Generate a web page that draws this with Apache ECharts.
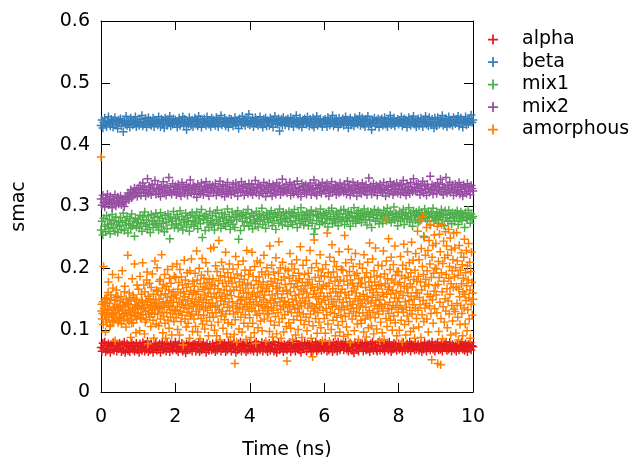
<!DOCTYPE html>
<html>
<head>
<meta charset="utf-8">
<script src="https://cdn.jsdelivr.net/npm/echarts@6/dist/echarts.min.js"></script>
<style>html,body{margin:0;padding:0;background:#fff}#c{width:634px;height:457px}</style>
</head>
<body>
<div id="c"></div>
<script>
const seriesNames = ['alpha', 'beta', 'mix1', 'mix2', 'amorphous'];
const timeRange = [0, 10];   // ns, every trajectory is sampled evenly over this span
const xTicks = [0, 2, 4, 6, 8, 10];
const yTicks = [0, 0.1, 0.2, 0.3, 0.4, 0.5, 0.6];

const alpha = [
.072,.066,.079,.070,.081,.065,.075,.068,.078,.073,.064,.077,.069,.080,.067,.074,.078,.066,.076,.070,
.079,.071,.065,.077,.068,.081,.064,.073,.078,.067,.075,.065,.071,.080,.069,.076,.066,.074,.079,.068,
.075,.064,.078,.071,.067,.080,.073,.066,.077,.069,.082,.065,.074,.068,.078,.071,.064,.076,.070,.079,
.067,.075,.069,.078,.064,.073,.081,.068,.071,.077,.066,.079,.070,.075,.065,.078,.072,.068,.076,.073,
.081,.068,.075,.065,.078,.070,.073,.079,.066,.076,.071,.063,.078,.068,.075,.080,.069,.073,.066,.077,
.071,.078,.066,.075,.069,.081,.065,.077,.068,.073,.079,.070,.075,.064,.078,.071,.067,.076,.073,.068,
.078,.069,.073,.065,.080,.068,.075,.071,.081,.066,.077,.070,.073,.079,.065,.075,.068,.080,.071,.076,
.066,.077,.070,.080,.073,.064,.075,.068,.078,.071,.081,.066,.073,.077,.069,.075,.065,.079,.068,.073,
.080,.068,.075,.070,.066,.078,.073,.081,.065,.077,.071,.068,.075,.080,.066,.073,.078,.069,.076,.065,
.073,.079,.067,.075,.071,.081,.066,.077,.069,.064,.075,.080,.068,.073,.078,.071,.065,.077,.070,.075,
.068,.077,.071,.080,.065,.075,.069,.078,.073,.066,.082,.071,.077,.068,.075,.064,.079,.070,.073,.080,
.075,.066,.078,.070,.077,.073,.065,.080,.068,.075,.071,.081,.066,.077,.069,.073,.079,.067,.075,.071,
.069,.080,.073,.066,.077,.068,.078,.071,.075,.065,.080,.069,.073,.077,.066,.081,.071,.068,.078,.073,
.077,.068,.075,.081,.069,.073,.066,.078,.071,.077,.067,.075,.063,.080,.073,.069,.077,.066,.075,.079,
.071,.078,.066,.073,.080,.068,.077,.069,.075,.065,.078,.071,.081,.067,.073,.077,.069,.066,.080,.075,
.067,.075,.080,.069,.073,.066,.078,.071,.077,.068,.081,.073,.065,.075,.069,.079,.071,.077,.067,.073,
.078,.069,.073,.077,.066,.080,.071,.068,.075,.078,.069,.073,.081,.066,.077,.071,.075,.068,.079,.069,
.073,.077,.067,.071,.078,.065,.075,.069,.080,.073,.066,.077,.071,.078,.068,.075,.081,.069,.073,.066,
.077,.071,.080,.068,.075,.069,.078,.066,.073,.077,.071,.081,.067,.075,.069,.080,.073,.066,.077,.071,
.069,.075,.066,.078,.073,.068,.077,.071,.081,.069,.075,.067,.078,.073,.065,.077,.071,.080,.068,.075,
.073];

const beta = [
.431,.440,.427,.436,.443,.433,.429,.438,.445,.434,.430,.441,.436,.428,.439,.444,.432,.437,.426,.440,
.435,.442,.430,.437,.421,.439,.433,.446,.431,.438,.435,.428,.443,.437,.432,.440,.434,.445,.429,.438,
.436,.431,.441,.434,.447,.430,.438,.435,.442,.428,.437,.444,.433,.439,.431,.436,.443,.429,.440,.435,
.438,.432,.445,.436,.429,.441,.434,.439,.427,.443,.437,.431,.440,.435,.446,.430,.438,.433,.442,.436,
.440,.434,.428,.437,.443,.431,.439,.436,.445,.430,.441,.435,.424,.438,.433,.444,.437,.432,.440,.429,
.437,.443,.433,.439,.430,.446,.435,.441,.428,.438,.434,.442,.436,.431,.445,.439,.433,.437,.429,.443,
.434,.440,.436,.431,.444,.438,.429,.441,.435,.447,.432,.438,.436,.443,.430,.439,.434,.428,.442,.437,
.441,.435,.430,.438,.444,.433,.439,.436,.426,.442,.437,.432,.446,.435,.440,.431,.438,.443,.434,.449,
.432,.439,.436,.442,.429,.437,.444,.434,.440,.431,.438,.445,.433,.437,.428,.441,.436,.443,.430,.439,
.437,.431,.443,.435,.440,.428,.438,.446,.434,.439,.433,.442,.422,.436,.441,.431,.444,.437,.432,.440,
.435,.442,.430,.438,.444,.434,.439,.429,.441,.436,.447,.433,.438,.431,.443,.437,.428,.440,.435,.442,
.439,.433,.445,.436,.430,.441,.437,.432,.443,.428,.438,.435,.446,.431,.440,.436,.442,.434,.429,.439,
.434,.441,.436,.429,.444,.438,.432,.440,.435,.447,.430,.439,.434,.442,.437,.428,.443,.433,.438,.436,
.442,.431,.438,.445,.434,.440,.427,.437,.443,.432,.439,.436,.430,.444,.435,.441,.433,.438,.446,.431,
.436,.443,.433,.439,.429,.441,.437,.446,.432,.438,.434,.424,.440,.436,.443,.430,.439,.435,.442,.428,
.440,.435,.442,.431,.438,.444,.433,.437,.429,.441,.436,.447,.432,.439,.434,.443,.430,.438,.436,.441,
.433,.439,.436,.445,.430,.437,.442,.434,.440,.428,.438,.444,.435,.431,.441,.437,.446,.433,.439,.429,
.438,.442,.431,.437,.443,.435,.429,.440,.436,.446,.433,.438,.430,.444,.437,.432,.441,.435,.427,.443,
.436,.430,.444,.438,.433,.441,.435,.447,.431,.439,.434,.442,.429,.437,.445,.433,.440,.436,.431,.444,
.439,.434,.441,.436,.446,.430,.438,.443,.435,.428,.440,.437,.445,.432,.439,.434,.442,.437,.448,.436,
.440];

const mix1 = [
.262,.276,.254,.281,.268,.259,.285,.271,.264,.279,.256,.273,.287,.266,.277,.260,.283,.270,.258,.275,
.268,.282,.263,.274,.289,.261,.277,.270,.284,.257,.272,.280,.265,.288,.269,.276,.252,.281,.267,.274,
.279,.265,.286,.272,.260,.283,.274,.291,.268,.278,.263,.285,.271,.258,.287,.276,.266,.282,.273,.289,
.270,.284,.262,.277,.290,.267,.281,.273,.259,.286,.275,.264,.288,.279,.248,.283,.270,.276,.292,.266,
.281,.272,.287,.265,.278,.293,.270,.284,.262,.279,.274,.289,.267,.282,.276,.260,.286,.271,.290,.277,
.268,.283,.275,.291,.264,.280,.286,.272,.295,.250,.278,.284,.261,.288,.274,.281,.266,.292,.277,.270,
.285,.273,.262,.289,.279,.294,.270,.283,.276,.265,.290,.281,.272,.287,.268,.278,.296,.274,.284,.263,
.277,.291,.271,.282,.266,.288,.279,.293,.247,.284,.261,.286,.276,.290,.269,.281,.287,.274,.295,.268,
.283,.275,.289,.264,.285,.278,.272,.292,.280,.267,.288,.276,.283,.297,.271,.286,.279,.265,.290,.282,
.274,.287,.280,.293,.269,.284,.277,.290,.263,.282,.288,.273,.296,.279,.285,.270,.291,.281,.276,.289,
.280,.268,.292,.283,.275,.289,.271,.286,.295,.277,.284,.266,.290,.281,.273,.298,.279,.287,.270,.285,
.276,.291,.282,.269,.288,.279,.294,.273,.285,.255,.264,.292,.277,.287,.283,.271,.296,.281,.275,.289,
.286,.273,.290,.281,.267,.293,.278,.284,.297,.272,.288,.280,.275,.291,.283,.269,.287,.279,.294,.276,
.283,.295,.271,.288,.280,.277,.292,.285,.268,.290,.282,.276,.298,.284,.273,.289,.281,.293,.278,.286,
.274,.289,.283,.296,.279,.287,.270,.292,.284,.278,.291,.266,.288,.282,.295,.276,.286,.281,.293,.272,
.290,.280,.285,.273,.294,.283,.288,.277,.297,.286,.279,.291,.274,.287,.282,.299,.278,.289,.284,.269,
.283,.292,.276,.288,.281,.295,.271,.286,.290,.279,.284,.298,.275,.289,.282,.268,.293,.285,.278,.291,
.287,.274,.294,.283,.279,.290,.285,.252,.296,.281,.288,.276,.292,.284,.270,.289,.282,.297,.277,.286,
.280,.291,.285,.273,.289,.283,.295,.278,.287,.269,.293,.282,.286,.276,.294,.281,.288,.272,.290,.284,
.276,.289,.283,.293,.271,.286,.280,.291,.277,.288,.284,.266,.290,.282,.279,.294,.285,.273,.288,.281,
.284];

const mix2 = [
.312,.302,.318,.306,.299,.314,.309,.320,.303,.311,.316,.305,.298,.313,.307,.319,.301,.310,.315,.304,
.309,.317,.303,.312,.306,.300,.314,.308,.316,.322,.311,.319,.327,.314,.323,.318,.330,.321,.326,.316,
.329,.322,.334,.318,.327,.338,.323,.331,.317,.326,.345,.321,.333,.328,.319,.336,.324,.330,.342,.320,
.327,.335,.321,.329,.316,.332,.325,.340,.322,.330,.318,.334,.326,.347,.323,.331,.320,.337,.327,.324,
.333,.319,.328,.336,.322,.330,.317,.339,.325,.332,.321,.328,.335,.318,.331,.326,.343,.322,.329,.334,
.320,.332,.327,.315,.336,.324,.330,.321,.338,.326,.319,.333,.328,.340,.323,.331,.317,.335,.325,.329,
.334,.322,.329,.337,.318,.326,.332,.323,.341,.328,.320,.335,.327,.316,.333,.324,.339,.321,.330,.326,
.319,.331,.336,.325,.322,.338,.327,.317,.334,.329,.323,.340,.326,.332,.318,.335,.324,.330,.321,.337,
.328,.323,.335,.319,.331,.326,.342,.322,.329,.336,.318,.333,.325,.330,.321,.339,.327,.316,.334,.324,
.331,.337,.322,.328,.317,.335,.326,.332,.320,.338,.324,.329,.334,.319,.327,.344,.323,.331,.325,.336,
.322,.330,.327,.339,.318,.333,.325,.321,.336,.329,.324,.341,.320,.331,.328,.316,.337,.326,.333,.323,
.335,.320,.328,.332,.325,.338,.319,.330,.327,.343,.322,.334,.318,.329,.336,.324,.331,.321,.339,.326,
.327,.334,.321,.337,.329,.317,.332,.325,.340,.323,.330,.326,.335,.319,.333,.328,.322,.338,.324,.331,
.329,.323,.336,.326,.320,.341,.328,.333,.318,.330,.325,.339,.322,.334,.327,.317,.336,.329,.324,.332,
.321,.338,.327,.331,.324,.335,.319,.329,.346,.326,.333,.320,.330,.337,.323,.328,.334,.318,.332,.327,
.336,.325,.330,.322,.339,.328,.317,.334,.326,.331,.321,.340,.327,.333,.319,.336,.324,.329,.338,.322,
.328,.333,.320,.335,.327,.342,.323,.330,.318,.337,.326,.332,.321,.339,.328,.324,.345,.331,.325,.336,
.324,.337,.329,.319,.334,.326,.341,.322,.333,.328,.318,.336,.330,.323,.349,.327,.335,.320,.332,.326,
.333,.321,.338,.327,.330,.344,.324,.336,.319,.331,.328,.347,.322,.334,.326,.339,.323,.330,.335,.318,
.327,.336,.322,.331,.325,.339,.320,.333,.328,.317,.335,.324,.330,.321,.337,.326,.332,.319,.334,.329,
.325];

const amorphous = [
.380,.131,.142,.118,.127,.146,.109,.203,.135,.124,.151,.139,.097,.117,.152,.128,.113,.144,.134,.161,.178,.121,.132,.143,.106,.108,.149,.157,.125,.127,.114,.190,.168,.136,.122,.116,.138,.148,.083,.129,.153,.165,.119,.141,.134,.155,.112,.185,.137,.126,
.119,.147,.137,.121,.154,.110,.131,.196,.132,.140,.145,.116,.123,.162,.171,.139,.128,.105,.150,.143,.126,.118,.221,.142,.133,.115,.160,.152,.133,.124,.088,.147,.111,.124,.183,.136,.157,.112,.153,.129,.207,.141,.122,.135,.096,.150,.118,.173,.138,.127,
.128,.166,.144,.140,.099,.187,.120,.134,.119,.158,.148,.145,.209,.125,.136,.173,.137,.094,.162,.113,.130,.148,.117,.181,.194,.141,.078,.155,.126,.132,.176,.121,.151,.139,.106,.169,.128,.145,.191,.134,.116,.158,.087,.143,.126,.212,.137,.149,.110,.165,
.143,.201,.126,.163,.135,.107,.150,.179,.135,.182,.118,.157,.139,.222,.129,.168,.096,.146,.174,.122,.137,.190,.111,.159,.087,.144,.171,.128,.153,.198,.116,.140,.165,.103,.184,.133,.148,.121,.176,.155,.092,.138,.203,.127,.162,.145,.114,.187,.131,.157,
.133,.185,.120,.152,.207,.138,.101,.166,.127,.177,.145,.092,.198,.131,.160,.114,.186,.142,.124,.173,.149,.076,.162,.136,.213,.154,.118,.181,.140,.105,.169,.129,.193,.147,.111,.175,.135,.158,.087,.196,.123,.164,.143,.215,.126,.151,.098,.179,.138,.161,
.118,.171,.146,.192,.106,.158,.130,.228,.141,.181,.097,.163,.125,.149,.200,.134,.086,.175,.153,.119,.189,.138,.216,.110,.166,.145,.124,.184,.157,.102,.170,.136,.209,.149,.115,.177,.132,.195,.160,.091,.143,.182,.121,.167,.139,.232,.154,.108,.174,.128,
.144,.183,.121,.234,.159,.100,.172,.137,.204,.128,.152,.091,.195,.140,.167,.113,.180,.245,.133,.161,.084,.188,.147,.123,.210,.155,.130,.176,.103,.199,.142,.165,.117,.186,.151,.226,.126,.171,.094,.158,.137,.193,.112,.179,.146,.207,.131,.163,.089,.185,
.156,.109,.176,.146,.139,.199,.126,.165,.093,.184,.046,.117,.219,.135,.170,.081,.191,.143,.129,.206,.154,.102,.178,.137,.164,.148,.121,.188,.150,.097,.173,.134,.212,.160,.111,.182,.142,.197,.125,.168,.085,.153,.229,.138,.176,.106,.161,.190,.131,.145,
.120,.197,.150,.088,.173,.135,.226,.158,.111,.187,.142,.168,.096,.203,.131,.155,.079,.180,.146,.124,.212,.161,.104,.174,.139,.186,.127,.153,.209,.115,.170,.141,.194,.099,.163,.132,.178,.149,.221,.118,.157,.136,.190,.082,.167,.145,.201,.126,.174,.138,
.190,.127,.163,.098,.236,.148,.115,.179,.136,.205,.157,.089,.171,.132,.194,.144,.108,.183,.151,.122,.217,.167,.094,.140,.176,.159,.128,.192,.243,.113,.169,.146,.201,.134,.087,.181,.152,.119,.210,.163,.138,.097,.186,.147,.125,.174,.199,.141,.106,.165,
.050,.159,.130,.196,.145,.112,.184,.138,.224,.162,.103,.175,.128,.207,.150,.085,.188,.141,.117,.169,.199,.134,.156,.092,.180,.147,.214,.123,.171,.136,.101,.192,.158,.129,.183,.144,.235,.116,.166,.139,.088,.177,.152,.205,.126,.163,.109,.190,.143,.172,
.147,.121,.213,.160,.099,.177,.136,.192,.153,.114,.182,.143,.229,.126,.168,.087,.201,.139,.174,.057,.107,.158,.131,.246,.164,.135,.185,.119,.154,.208,.142,.095,.170,.128,.196,.151,.113,.179,.137,.222,.160,.104,.188,.145,.167,.083,.199,.132,.173,.155,
.119,.187,.148,.095,.206,.135,.171,.125,.257,.154,.110,.193,.142,.176,.082,.218,.160,.129,.185,.101,.150,.238,.138,.167,.116,.194,.146,.211,.127,.179,.091,.162,.140,.203,.121,.186,.155,.108,.172,.134,.227,.149,.097,.181,.160,.124,.198,.137,.166,.114,
.197,.145,.090,.179,.133,.253,.161,.122,.209,.152,.105,.188,.139,.173,.093,.231,.157,.127,.195,.146,.080,.181,.135,.214,.163,.118,.176,.142,.203,.130,.168,.099,.189,.151,.224,.123,.160,.136,.192,.110,.171,.147,.085,.183,.128,.207,.155,.139,.175,.116,
.111,.176,.143,.200,.128,.158,.097,.222,.150,.185,.118,.169,.137,.089,.193,.155,.124,.210,.147,.104,.178,.132,.241,.165,.121,.186,.144,.107,.172,.153,.215,.129,.161,.094,.196,.139,.178,.120,.233,.148,.167,.102,.188,.135,.157,.205,.126,.174,.141,.083,
.149,.186,.113,.172,.139,.204,.096,.161,.131,.228,.154,.085,.191,.142,.175,.279,.119,.212,.158,.106,.183,.135,.166,.248,.127,.170,.145,.198,.116,.159,.218,.134,.181,.100,.164,.140,.206,.123,.177,.152,.236,.112,.189,.137,.160,.091,.195,.146,.174,.129,
.195,.152,.100,.177,.140,.219,.163,.116,.188,.134,.081,.205,.156,.129,.239,.171,.109,.184,.146,.092,.199,.137,.168,.123,.227,.160,.186,.114,.148,.209,.132,.175,.098,.193,.155,.242,.126,.170,.141,.213,.103,.182,.150,.087,.197,.136,.224,.161,.119,.179,
.160,.260,.132,.187,.105,.214,.153,.276,.141,.178,.088,.232,.165,.125,.203,.284,.148,.190,.114,.250,.171,.136,.221,.182,.143,.266,.118,.196,.158,.229,.097,.174,.245,.139,.207,.154,.271,.127,.185,.052,.218,.149,.237,.111,.192,.163,.254,.135,.200,.172,
.240,.157,.199,.128,.268,.046,.174,.211,.098,.185,.255,.145,.227,.044,.119,.193,.271,.162,.086,.208,.138,.244,.179,.113,.217,.151,.259,.131,.190,.236,.167,.104,.221,.147,.263,.184,.126,.203,.158,.249,.092,.175,.230,.140,.196,.115,.214,.169,.257,.134,
.186,.233,.130,.201,.095,.170,.258,.143,.212,.121,.189,.084,.166,.237,.154,.109,.197,.140,.225,.175,.127,.206,.091,.162,.184,.218,.136,.247,.158,.110,.193,.148,.229,.172,.099,.204,.133,.181,.240,.152,.118,.210,.165,.087,.195,.142,.226,.177,.124,.160,
.150];

const colors = ['#e41a1c', '#377eb8', '#4daf4a', '#984ea3', '#ff7f00'];
const plusPath = 'path://M3.3,0H4.7V3.3H8V4.7H4.7V8H3.3V4.7H0V3.3H3.3Z';
const FONT = 'DejaVu Sans';

// pair each sample with its time: samples are evenly spaced over timeRange
function pairs(vals) {
  const step = (timeRange[1] - timeRange[0]) / (vals.length - 1);
  return vals.map((v, i) => [+(timeRange[0] + i * step).toFixed(4), v]);
}
const allValues = [alpha, beta, mix1, mix2, amorphous].map(pairs);

const axisLine = { show: true, onZero: false, lineStyle: { color: '#000', width: 1 } };
const tick = { show: true, inside: true, length: 9, lineStyle: { color: '#000', width: 1 } };
const labelStyle = { color: '#000', fontFamily: FONT, fontSize: 19 };

const chart = echarts.init(document.getElementById('c'), null, { renderer: 'canvas' });
chart.setOption({
  animation: false,
  backgroundColor: '#fff',
  grid: { left: 101, top: 21, width: 372, height: 371, containLabel: false, outerBoundsMode: 'none' },
  legend: {
    orient: 'vertical', left: 483, top: 25, itemWidth: 10, itemHeight: 10, itemGap: 3.5,
    textStyle: { color: '#000', fontFamily: FONT, fontSize: 19, padding: [0, 0, 0, 19] },
    data: seriesNames.map(n => ({ name: n, icon: plusPath })),
    selectedMode: false
  },
  xAxis: [{
    type: 'value', min: timeRange[0], max: timeRange[1], interval: 2, position: 'bottom',
    axisLine, axisTick: tick, splitLine: { show: false },
    axisLabel: Object.assign({ margin: 16, formatter: v => xTicks.includes(v) ? String(v) : '' }, labelStyle),
    name: 'Time (ns)', nameLocation: 'middle', nameGap: 49,
    nameTextStyle: { color: '#000', fontFamily: FONT, fontSize: 19 }
  }, {
    type: 'value', min: timeRange[0], max: timeRange[1], interval: 2, position: 'top',
    axisLine, axisTick: tick, splitLine: { show: false }, axisLabel: { show: false }
  }],
  yAxis: [{
    type: 'value', min: 0, max: 0.6, interval: 0.1, position: 'left',
    axisLine, axisTick: tick, splitLine: { show: false },
    axisLabel: Object.assign({ margin: 11, formatter: v => {
      const t = yTicks.find(y => Math.abs(y - v) < 1e-9);
      return t === undefined ? '' : (t === 0 ? '0' : t.toFixed(1));
    } }, labelStyle),
    name: 'smac', nameLocation: 'middle', nameGap: 72, nameRotate: 90,
    nameTextStyle: { color: '#000', fontFamily: FONT, fontSize: 19 }
  }, {
    type: 'value', min: 0, max: 0.6, interval: 0.1, position: 'right',
    axisLine, axisTick: tick, splitLine: { show: false }, axisLabel: { show: false }
  }],
  series: seriesNames.map((n, k) => ({
    name: n, type: 'scatter', xAxisIndex: 0, yAxisIndex: 0,
    symbol: plusPath, symbolSize: 8.5,
    itemStyle: { color: colors[k], opacity: 1 },
    data: allValues[k], z: 2 + k, large: false
  }))
});
</script>
</body>
</html>
